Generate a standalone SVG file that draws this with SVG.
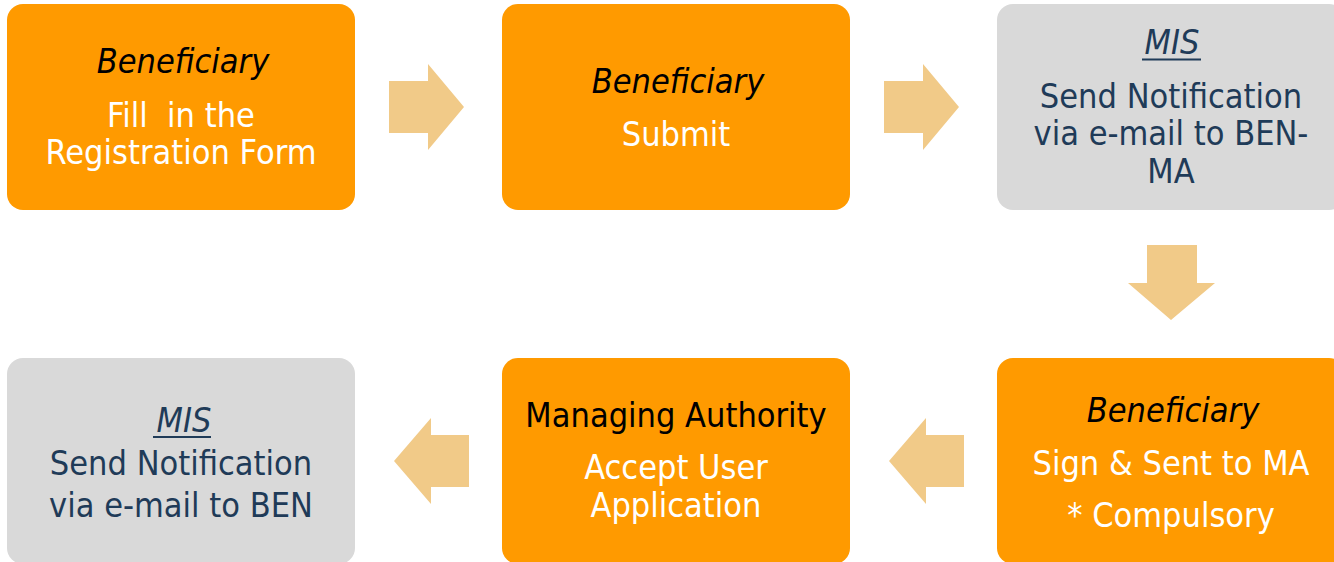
<svg xmlns="http://www.w3.org/2000/svg" width="1334" height="562" viewBox="0 0 1334 562">
<style>
.box{stroke:none}
.or{fill:#FF9A00}
.gr{fill:#D9D9D9}
.arr{fill:#F1CA88}
text{font-family:"DejaVu Sans Condensed","DejaVu Sans",sans-serif;font-size:34px;text-anchor:middle}
.it{font-style:italic;fill:#000}
.wh{fill:#FFFFFF}
.bk{fill:#000}
.nv{fill:#1F3B58}
.ul{stroke:#1F3B58;stroke-width:2}
</style>
<rect width="1334" height="562" fill="#FFFFFF"/>
<g id="connectors">
<polygon class="arr" points="389,81 428,81 428,64 464,107 428,150 428,133 389,133"/>
<polygon class="arr" points="884,81 923,81 923,64 959,107 923,150 923,133 884,133"/>
<polygon class="arr" points="1147,245 1197,245 1197,283 1215,283 1171,320 1128,283 1147,283"/>
<polygon class="arr" points="964,435 926,435 926,418 889,461 926,504 926,487 964,487"/>
<polygon class="arr" points="469,435 431,435 431,418 394,461 431,504 431,487 469,487"/>
</g>
<g id="node1">
<rect class="box or" x="7" y="4" width="348" height="206" rx="16"/>
<text class="it" x="183" y="73">Beneficiary</text>
<text class="wh" x="181" y="127" xml:space="preserve">Fill  in the</text>
<text class="wh" x="181" y="164">Registration Form</text>
</g>
<g id="node2">
<rect class="box or" x="502" y="4" width="348" height="206" rx="16"/>
<text class="it" x="678" y="93">Beneficiary</text>
<text class="wh" x="676" y="146">Submit</text>
</g>
<g id="node3">
<rect class="box gr" x="997" y="4" width="348" height="206" rx="16"/>
<text class="nv" x="1172" y="54" font-style="italic">MIS</text>
<line class="ul" x1="1142" y1="59.5" x2="1201" y2="59.5"/>
<text class="nv" x="1171" y="108">Send Notification</text>
<text class="nv" x="1171" y="145">via e-mail to BEN-</text>
<text class="nv" x="1171" y="183">MA</text>
</g>
<g id="node4">
<rect class="box or" x="997" y="358" width="348" height="206" rx="16"/>
<text class="it" x="1173" y="422">Beneficiary</text>
<text class="wh" x="1171" y="475">Sign &amp; Sent to MA</text>
<text class="wh" x="1171" y="527">* Compulsory</text>
</g>
<g id="node5">
<rect class="box or" x="502" y="358" width="348" height="206" rx="16"/>
<text class="bk" x="676" y="427">Managing Authority</text>
<text class="wh" x="676" y="479">Accept User</text>
<text class="wh" x="676" y="517">Application</text>
</g>
<g id="node6">
<rect class="box gr" x="7" y="358" width="348" height="206" rx="16"/>
<text class="nv" x="184" y="432" font-style="italic">MIS</text>
<line class="ul" x1="153" y1="437" x2="211" y2="437"/>
<text class="nv" x="181" y="475">Send Notification</text>
<text class="nv" x="181" y="517">via e-mail to BEN</text>
</g>
</svg>
